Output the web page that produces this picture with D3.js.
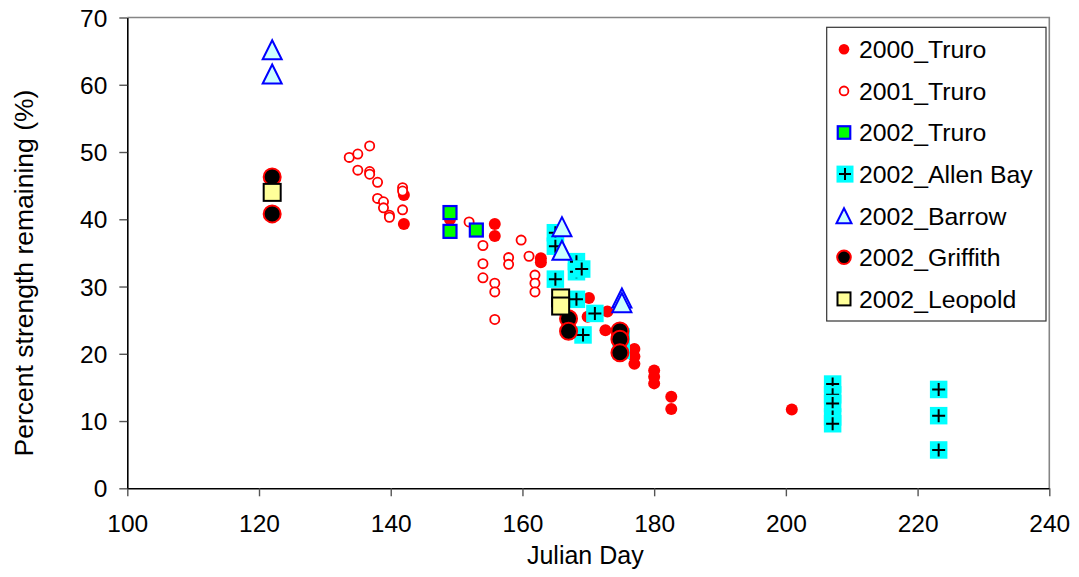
<!DOCTYPE html>
<html>
<head>
<meta charset="utf-8">
<script src="https://cdn.jsdelivr.net/npm/d3@7"></script>
<style>
  body { margin: 0; background: #fff; }
  text { font-family: "Liberation Sans", Arial, sans-serif; fill: #000; }
</style>
</head>
<body>
<script>
// series data: [julian day, percent remaining]
const truro2000 = [
    [142, 43.6], [142, 39.3], [149, 40.0], [155.8, 39.3], [155.8, 37.5],
    [162.8, 34.2], [162.8, 33.6], [170.1, 28.3], [169.9, 25.5], [172.9, 26.3],
    [172.6, 23.5], [177.0, 20.7], [177.0, 19.6], [177.0, 18.5], [180, 17.5],
    [180, 16.6], [180, 15.6], [182.6, 13.6], [182.6, 11.8], [200.9, 11.7]
];
const truro2001 = [
    [133.7, 49.2], [135.0, 49.7], [136.8, 50.9], [135.0, 47.3], [136.8, 47.1],
    [136.8, 46.7], [138.0, 45.5], [138.0, 43.1], [138.9, 42.6], [138.9, 41.7],
    [139.8, 40.6], [139.8, 40.3], [141.8, 44.7], [141.8, 44.2], [141.8, 41.4],
    [151.9, 39.6], [154.0, 36.1], [154.0, 33.4], [154.0, 31.3], [155.8, 30.5],
    [155.8, 29.2], [155.8, 25.1], [157.9, 34.3], [157.9, 33.3], [159.8, 36.9],
    [161.0, 34.5], [161.9, 31.7], [161.9, 30.5], [161.9, 29.2]
];
const truro2002 = [[149, 41.0], [149, 38.2], [153, 38.4]];
const allenBay = [
    [165, 38.0], [165, 36.0], [165, 31.1], [168.2, 33.7], [168.2, 32.2],
    [169, 32.6], [168.2, 28.1], [171, 26.0], [169.2, 22.8], [175, 22.5],
    [175, 20.5], [207.1, 15.5], [207.1, 13.9], [207.1, 12.6], [207.1, 10.6],
    [207.1, 9.6], [223.2, 14.7], [223.2, 10.8], [223.2, 5.7]
];
const barrow = [[122, 65.2], [122, 61.6], [166, 38.9], [166, 35.4], [175.1, 28.3], [175.1, 27.6]];
const griffith = [[122, 46.3], [122, 40.8], [167, 25.2], [167, 23.35], [174.8, 23.4], [174.8, 22.15], [174.8, 20.15]];
const leopold = [[122, 44.0], [165.8, 28.3], [165.8, 27.1]];

const seriesNames = ['2000_Truro', '2001_Truro', '2002_Truro', '2002_Allen Bay', '2002_Barrow', '2002_Griffith', '2002_Leopold'];
const xTicks = [100, 120, 140, 160, 180, 200, 220, 240];
const yTicks = [0, 10, 20, 30, 40, 50, 60, 70];

const width = 1079;
const height = 577;
const plotLeft = 127.3, plotRight = 1049.3, plotTop = 17.5, plotBottom = 488.3;

const svg = d3.select('body').append('svg')
    .attr('width', width)
    .attr('height', height);

const x = d3.scaleLinear().domain([100, 240]).range([plotLeft, plotRight]);
const y = d3.scaleLinear().domain([0, 70]).range([plotBottom, plotTop]);

// plot border (top/right gray)
svg.append('path')
    .attr('d', `M${plotLeft},${plotTop}H${plotRight}V${plotBottom}`)
    .attr('fill', 'none')
    .attr('stroke', '#858585')
    .attr('stroke-width', 1.6);

const xAxis = svg.append('g')
    .attr('transform', `translate(0,${plotBottom})`)
    .call(d3.axisBottom(x).tickValues(xTicks).tickSize(8).tickSizeOuter(0).tickPadding(12));
const yAxis = svg.append('g')
    .attr('transform', `translate(${plotLeft},0)`)
    .call(d3.axisLeft(y).tickValues(yTicks).tickSize(8).tickSizeOuter(0).tickPadding(12));

[xAxis, yAxis].forEach(a => {
    a.select('.domain').attr('stroke', '#000').attr('stroke-width', 1.6);
    a.selectAll('.tick line').attr('stroke', '#555').attr('stroke-width', 1.4);
    a.selectAll('.tick text')
        .style('font-family', '"Liberation Sans", Arial, sans-serif')
        .style('font-size', '24.5px')
        .attr('fill', '#000');
});
xAxis.selectAll('.tick text').attr('dy', '0.95em');
yAxis.selectAll('.tick text').attr('dy', '0.35em');

svg.append('text')
    .attr('x', (plotLeft + plotRight) / 2 - 3)
    .attr('y', 564)
    .attr('text-anchor', 'middle')
    .style('font-size', '25px')
    .text('Julian Day');

svg.append('text')
    .attr('transform', 'translate(33,273) rotate(-90)')
    .attr('text-anchor', 'middle')
    .style('font-size', '26.5px')
    .text('Percent strength remaining (%)');

// marker drawers
function filledDot(g, cx, cy, r) {
    g.append('circle').attr('cx', cx).attr('cy', cy).attr('r', r).attr('fill', '#ff0000');
}
function openDot(g, cx, cy, r) {
    g.append('circle').attr('cx', cx).attr('cy', cy).attr('r', r)
        .attr('fill', '#fff').attr('stroke', '#ff0000').attr('stroke-width', 1.8);
}
function greenSquare(g, cx, cy, s) {
    g.append('rect').attr('x', cx - s / 2).attr('y', cy - s / 2).attr('width', s).attr('height', s)
        .attr('fill', '#00ff00').attr('stroke', '#0000ff').attr('stroke-width', 2.2);
}
function cyanPlus(g, cx, cy, s, p) {
    g.append('rect').attr('x', cx - s / 2).attr('y', cy - s / 2).attr('width', s).attr('height', s)
        .attr('fill', '#00ffff');
    g.append('path').attr('d', `M${cx - p},${cy}H${cx + p}M${cx},${cy - p}V${cy + p}`)
        .attr('stroke', '#000').attr('stroke-width', 2);
}
function triangle(g, cx, cy, s) {
    const h = s / 2;
    g.append('path').attr('d', `M${cx},${cy - h}L${cx + h},${cy + h}L${cx - h},${cy + h}Z`)
        .attr('fill', '#ccffff').attr('stroke', '#0000ff').attr('stroke-width', 2);
}
function blackDot(g, cx, cy, r) {
    g.append('circle').attr('cx', cx).attr('cy', cy).attr('r', r)
        .attr('fill', '#000').attr('stroke', '#ff0000').attr('stroke-width', 2);
}
function yellowSquare(g, cx, cy, s) {
    g.append('rect').attr('x', cx - s / 2).attr('y', cy - s / 2).attr('width', s).attr('height', s)
        .attr('fill', '#ffff99').attr('stroke', '#000').attr('stroke-width', 2);
}

const plot = svg.append('g');
truro2000.forEach(d => filledDot(plot, x(d[0]), y(d[1]), 6));
truro2001.forEach(d => openDot(plot, x(d[0]), y(d[1]), 4.6));
truro2002.forEach(d => greenSquare(plot, x(d[0]), y(d[1]), 13));
allenBay.forEach(d => cyanPlus(plot, x(d[0]), y(d[1]), 17.5, 6.5));
barrow.forEach(d => triangle(plot, x(d[0]), y(d[1]), 19));
griffith.forEach(d => blackDot(plot, x(d[0]), y(d[1]), 8.5));
leopold.forEach(d => yellowSquare(plot, x(d[0]), y(d[1]), 17));

// legend
const legend = svg.append('g');
legend.append('rect')
    .attr('x', 826.7).attr('y', 27.3)
    .attr('width', 219.3).attr('height', 293.7)
    .attr('fill', '#fff')
    .attr('stroke', '#333')
    .attr('stroke-width', 1.2);

const legendMarkers = [
    (g, cx, cy) => filledDot(g, cx, cy, 5.3),
    (g, cx, cy) => openDot(g, cx, cy, 4.4),
    (g, cx, cy) => greenSquare(g, cx, cy, 12.5),
    (g, cx, cy) => cyanPlus(g, cx + 1, cy, 17, 6),
    (g, cx, cy) => triangle(g, cx, cy, 15),
    (g, cx, cy) => blackDot(g, cx, cy, 6.8),
    (g, cx, cy) => yellowSquare(g, cx, cy, 13)
];

seriesNames.forEach((name, i) => {
    const cy = 49.3 + i * 41.6;
    legendMarkers[i](legend, 844, cy);
    legend.append('text')
        .attr('x', 859)
        .attr('y', cy + 8.8)
        .style('font-size', '24.8px')
        .text(name);
});
</script>
</body>
</html>
